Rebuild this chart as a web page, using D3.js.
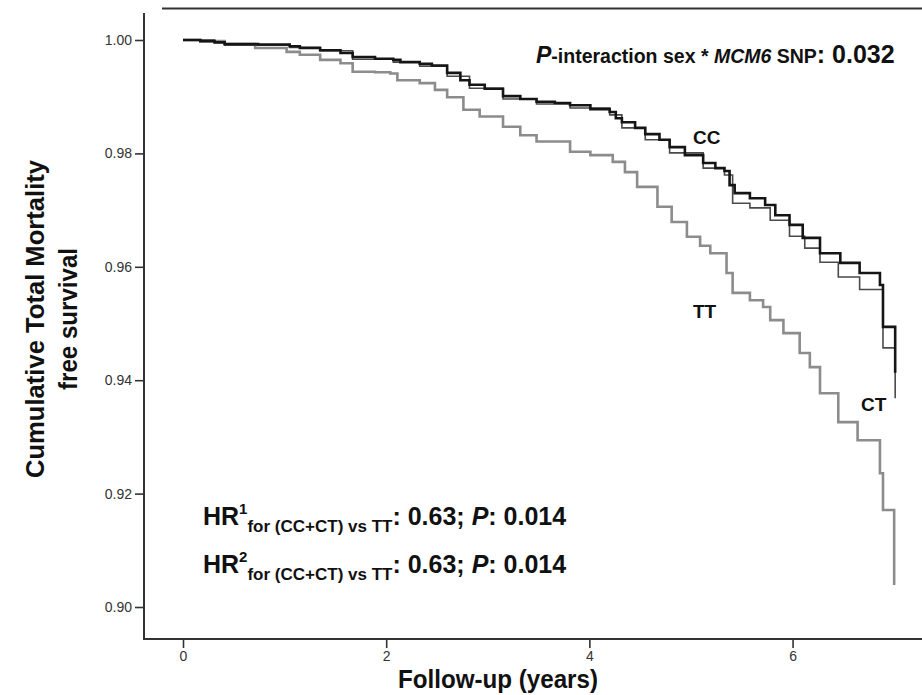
<!DOCTYPE html>
<html>
<head>
<meta charset="utf-8">
<script src="https://cdn.jsdelivr.net/npm/d3@7"></script>
<style>
  html, body { margin: 0; padding: 0; background: #fff; }
  svg { display: block; }
  text { font-family: "Liberation Sans", Arial, sans-serif; }
</style>
</head>
<body>
<svg id="chart" width="922" height="695"></svg>
<script>
// ---- data (years, cumulative survival) ----
const ccTimes = [0, 0.17, 0.31, 0.41, 0.74, 1.05, 1.15, 1.35, 1.55, 1.67, 1.89, 2.07, 2.14, 2.33, 2.45, 2.60, 2.73, 2.82, 2.97, 3.15, 3.32, 3.48, 3.66, 3.81, 4.01, 4.20, 4.26, 4.32, 4.45, 4.55, 4.69, 4.79, 4.94, 5.12, 5.24, 5.33, 5.38, 5.43, 5.58, 5.73, 5.83, 5.97, 6.10, 6.27, 6.47, 6.66, 6.86, 6.89, 7.01];
const ccSurv  = [1.0000, 0.9998, 0.9996, 0.9993, 0.9992, 0.9989, 0.9986, 0.9982, 0.9977, 0.9970, 0.9967, 0.9965, 0.9961, 0.9958, 0.9955, 0.9942, 0.9929, 0.9921, 0.9914, 0.9901, 0.9896, 0.9891, 0.9889, 0.9885, 0.9878, 0.9873, 0.9862, 0.9855, 0.9845, 0.9834, 0.9824, 0.9811, 0.9797, 0.9783, 0.9774, 0.9769, 0.9744, 0.9730, 0.9721, 0.9709, 0.9691, 0.9674, 0.9651, 0.9624, 0.9607, 0.9589, 0.9568, 0.9494, 0.9413];

const ctTimes = [0, 0.31, 0.41, 1.05, 1.35, 1.67, 2.07, 2.33, 2.60, 2.82, 3.15, 3.48, 3.81, 4.20, 4.32, 4.55, 4.79, 5.12, 5.33, 5.41, 5.58, 5.78, 5.97, 6.12, 6.27, 6.45, 6.66, 6.89, 7.01];
const ctSurv  = [1.0000, 0.9995, 0.9991, 0.9987, 0.9981, 0.9966, 0.9961, 0.9954, 0.9936, 0.9915, 0.9896, 0.9887, 0.9880, 0.9868, 0.9845, 0.9824, 0.9801, 0.9774, 0.9762, 0.9712, 0.9704, 0.9682, 0.9654, 0.9633, 0.9608, 0.9582, 0.9560, 0.9457, 0.9368];

const ttTimes = [0, 0.17, 0.41, 0.71, 1.02, 1.15, 1.35, 1.55, 1.67, 1.89, 2.04, 2.11, 2.33, 2.48, 2.60, 2.76, 2.92, 3.15, 3.32, 3.48, 3.81, 4.01, 4.23, 4.35, 4.47, 4.67, 4.81, 4.96, 5.09, 5.19, 5.35, 5.41, 5.58, 5.71, 5.78, 5.91, 6.07, 6.17, 6.27, 6.45, 6.64, 6.86, 6.89, 7.00];
const ttSurv  = [1.0000, 0.9998, 0.9993, 0.9986, 0.9979, 0.9974, 0.9965, 0.9959, 0.9944, 0.9943, 0.9941, 0.9929, 0.9924, 0.9912, 0.9899, 0.9877, 0.9865, 0.9847, 0.9832, 0.9821, 0.9803, 0.9797, 0.9785, 0.9767, 0.9741, 0.9706, 0.9679, 0.9653, 0.9637, 0.9624, 0.9589, 0.9554, 0.9541, 0.9529, 0.9506, 0.9483, 0.9448, 0.9423, 0.9377, 0.9326, 0.9294, 0.9236, 0.9171, 0.9039];

const xTicks = [0, 2, 4, 6];
const yTicks = [0.90, 0.92, 0.94, 0.96, 0.98, 1.00];
const groupLabels = ["CC", "CT", "TT"];

// ---- scales ----
const svg = d3.select("#chart");
const x = d3.scaleLinear().domain([0, 7.274]).range([183, 922]);
const y = d3.scaleLinear().domain([0.90, 1.00]).range([607, 40]);

const axisColor = "#333";

// top frame line
svg.append("line").attr("x1", 162).attr("x2", 922).attr("y1", 8.5).attr("y2", 8.5)
  .attr("stroke", axisColor).attr("stroke-width", 2);

// axes
const yAxis = d3.axisLeft(y).tickValues(yTicks).tickFormat(d3.format(".2f"))
  .tickSize(9).tickSizeOuter(0).tickPadding(3);
const gy = svg.append("g").attr("transform", "translate(144,0)").call(yAxis);
gy.select(".domain").remove();
gy.selectAll(".tick line").attr("stroke", axisColor).attr("stroke-width", 1.6);
gy.selectAll(".tick text").attr("fill", "#333").style("font-size", "14px")
  .style("font-family", "'Liberation Sans', Arial, sans-serif");

const xAxis = d3.axisBottom(x).tickValues(xTicks).tickFormat(d3.format("d"))
  .tickSize(9).tickSizeOuter(0).tickPadding(3);
const gx = svg.append("g").attr("transform", "translate(0,639)").call(xAxis);
gx.select(".domain").remove();
gx.selectAll(".tick line").attr("stroke", axisColor).attr("stroke-width", 1.6);
gx.selectAll(".tick text").attr("fill", "#333").style("font-size", "14px")
  .style("font-family", "'Liberation Sans', Arial, sans-serif");

svg.append("line").attr("x1", 144).attr("x2", 144).attr("y1", 13).attr("y2", 640)
  .attr("stroke", axisColor).attr("stroke-width", 2);
svg.append("line").attr("x1", 143).attr("x2", 922).attr("y1", 639).attr("y2", 639)
  .attr("stroke", axisColor).attr("stroke-width", 2);

// ---- curves ----
const line = d3.line().x(d => x(d[0])).y(d => y(d[1])).curve(d3.curveStepAfter);
const series = [
  { name: "TT", data: d3.zip(ttTimes, ttSurv), color: "#8c8c8c", width: 2.6 },
  { name: "CT", data: d3.zip(ctTimes, ctSurv), color: "#4a4a4a", width: 1.6 },
  { name: "CC", data: d3.zip(ccTimes, ccSurv), color: "#151515", width: 2.6 }
];
svg.append("g").selectAll("path").data(series).join("path")
  .attr("d", d => line(d.data))
  .attr("fill", "none")
  .attr("stroke", d => d.color)
  .attr("stroke-width", d => d.width)
  .attr("stroke-linejoin", "miter");

// group labels
const labelPos = { CC: [693, 144], CT: [861, 411], TT: [693, 318] };
svg.append("g").selectAll("text").data(groupLabels).join("text")
  .attr("x", d => labelPos[d][0]).attr("y", d => labelPos[d][1])
  .attr("font-weight", "bold").attr("font-size", 19).attr("fill", "#111")
  .text(d => d);

// ---- axis titles ----
svg.append("text")
  .attr("transform", "translate(44,319) rotate(-90)")
  .attr("text-anchor", "middle").attr("font-weight", "bold").attr("font-size", 25)
  .attr("fill", "#111")
  .attr("textLength", 318).attr("lengthAdjust", "spacingAndGlyphs")
  .text("Cumulative Total Mortality");
svg.append("text")
  .attr("transform", "translate(77,319) rotate(-90)")
  .attr("text-anchor", "middle").attr("font-weight", "bold").attr("font-size", 25)
  .attr("fill", "#111")
  .attr("textLength", 142).attr("lengthAdjust", "spacingAndGlyphs")
  .text("free survival");
svg.append("text")
  .attr("x", 498).attr("y", 688)
  .attr("text-anchor", "middle").attr("font-weight", "bold").attr("font-size", 25)
  .attr("fill", "#111")
  .attr("textLength", 200).attr("lengthAdjust", "spacingAndGlyphs")
  .text("Follow-up (years)");

// ---- annotations ----
const pt = svg.append("text").attr("x", 536).attr("y", 63)
  .attr("font-weight", "bold").attr("fill", "#111");
pt.append("tspan").attr("font-size", 23).attr("font-style", "italic").text("P");
pt.append("tspan").attr("font-size", 19.5).text("-interaction sex * ");
pt.append("tspan").attr("font-size", 19.5).attr("font-style", "italic").text("MCM6");
pt.append("tspan").attr("font-size", 19.5).text(" SNP");
pt.append("tspan").attr("font-size", 25).text(": 0.032");

function hrLine(sup, yBase) {
  const t = svg.append("text").attr("x", 203).attr("y", yBase)
    .attr("font-weight", "bold").attr("fill", "#111").attr("font-size", 25);
  t.append("tspan").text("HR");
  t.append("tspan").attr("font-size", 15).attr("dy", -11).text(sup);
  t.append("tspan").attr("font-size", 17).attr("dy", 18).text("for (CC+CT) vs TT");
  t.append("tspan").attr("dy", -7).text(": 0.63; ");
  t.append("tspan").attr("font-style", "italic").text("P");
  t.append("tspan").text(": 0.014");
}
hrLine("1", 525);
hrLine("2", 573);
</script>
</body>
</html>
